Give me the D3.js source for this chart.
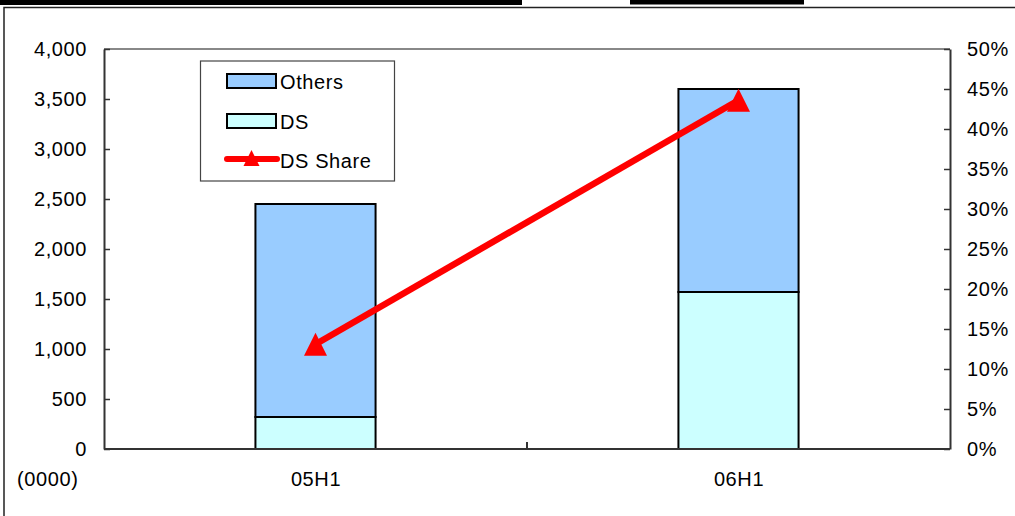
<!DOCTYPE html>
<html>
<head>
<meta charset="utf-8">
<script src="https://cdn.jsdelivr.net/npm/d3@7"></script>
<style>
  body { margin: 0; background: #fff; }
  svg text { font-family: "Liberation Sans", Arial, sans-serif; fill: #000; letter-spacing: 0.6px; }
</style>
</head>
<body>
<div id="chart"></div>
<script>
const categories = ['05H1', '06H1'];
const dsValues = [320, 1570];
const othersValues = [2130, 2030];
const dsShare = [13.1, 43.6];
const leftTicks = [0, 500, 1000, 1500, 2000, 2500, 3000, 3500, 4000];
const rightTicks = [0, 5, 10, 15, 20, 25, 30, 35, 40, 45, 50];
const unitLabel = '(0000)';

const W = 1015, H = 516;
const plot = { left: 104, right: 950, top: 49, bottom: 449 };
const fontSize = '20px';

const svg = d3.select('#chart').append('svg').attr('width', W).attr('height', H);

// page decoration: black strips on top and the outer frame
svg.append('rect').attr('x', 0).attr('y', 0).attr('width', 522).attr('height', 5).attr('fill', '#000');
svg.append('rect').attr('x', 630).attr('y', 0).attr('width', 174).attr('height', 4.5).attr('fill', '#000');
svg.append('path').attr('d', `M4,${H} V7.5 H${W}`).attr('fill', 'none').attr('stroke', '#222').attr('stroke-width', 1.5);

const x = d3.scalePoint().domain(categories).range([plot.left, plot.right]).padding(0.5);
const step = x.step();
const barW = step * 0.284;
const y = d3.scaleLinear().domain([0, 4000]).range([plot.bottom, plot.top]);
const y2 = d3.scaleLinear().domain([0, 50]).range([plot.bottom, plot.top]);

// plot area top border
svg.append('line').attr('x1', plot.left).attr('x2', plot.right).attr('y1', plot.top).attr('y2', plot.top)
    .attr('stroke', '#888').attr('stroke-width', 2);

// bars
const stack = categories.map((c, i) => ({ cat: c, ds: dsValues[i], others: othersValues[i] }));
const g = svg.append('g');
stack.forEach(d => {
    g.append('rect').attr('x', x(d.cat) - barW / 2).attr('width', barW)
        .attr('y', y(d.ds + d.others)).attr('height', y(d.ds) - y(d.ds + d.others))
        .attr('fill', '#99ccff').attr('stroke', '#000').attr('stroke-width', 2);
    g.append('rect').attr('x', x(d.cat) - barW / 2).attr('width', barW)
        .attr('y', y(d.ds)).attr('height', y(0) - y(d.ds))
        .attr('fill', '#ccffff').attr('stroke', '#000').attr('stroke-width', 2);
});

// axes
const left = svg.append('g').attr('transform', `translate(${plot.left},0)`)
    .call(d3.axisLeft(y).tickValues(leftTicks).tickSizeInner(-6).tickSizeOuter(0).tickPadding(17).tickFormat(d3.format(',')));
const right = svg.append('g').attr('transform', `translate(${plot.right},0)`)
    .call(d3.axisRight(y2).tickValues(rightTicks).tickSizeInner(-6).tickSizeOuter(0).tickPadding(17).tickFormat(d => d + '%'));
const bottom = svg.append('g').attr('transform', `translate(0,${plot.bottom})`)
    .call(d3.axisBottom(x).tickSize(0).tickPadding(23));
bottom.select('.domain').attr('d', `M${plot.left},0H${plot.right}`);
categories.slice(0, -1).forEach(c => {
    bottom.append('line').attr('x1', x(c) + step / 2).attr('x2', x(c) + step / 2)
        .attr('y1', 0).attr('y2', -7).attr('stroke', '#333').attr('stroke-width', 2);
});
[left, right, bottom].forEach(a => {
    a.selectAll('.domain').attr('stroke', '#333').attr('stroke-width', 2);
    a.selectAll('.tick line').attr('stroke', '#333').attr('stroke-width', 1.5);
    a.selectAll('text').attr('font-size', fontSize).attr('font-family', '"Liberation Sans", Arial, sans-serif');
});

svg.append('text').attr('x', 17).attr('y', 486).attr('font-size', fontSize).text(unitLabel);

// DS share line
const pts = categories.map((c, i) => [x(c), y2(dsShare[i])]);
svg.append('path').datum(pts).attr('d', d3.line()).attr('fill', 'none')
    .attr('stroke', '#ff0000').attr('stroke-width', 6.5);
const tri = s => `M0,${-s / 2}L${s / 2},${s / 2}L${-s / 2},${s / 2}Z`;
svg.selectAll('.marker').data(pts).enter().append('path')
    .attr('d', tri(23)).attr('transform', d => `translate(${d[0]},${d[1]})`).attr('fill', '#ff0000');

// legend
const lg = svg.append('g');
lg.append('rect').attr('x', 200.5).attr('y', 61).attr('width', 194).attr('height', 120)
    .attr('fill', '#fff').attr('stroke', '#444').attr('stroke-width', 1.2);
const items = [
    { label: 'Others', fill: '#99ccff' },
    { label: 'DS', fill: '#ccffff' }
];
items.forEach((it, i) => {
    const cy = 81 + i * 40;
    lg.append('rect').attr('x', 227).attr('y', cy - 7).attr('width', 49).attr('height', 14)
        .attr('fill', it.fill).attr('stroke', '#000').attr('stroke-width', 2);
    lg.append('text').attr('x', 280).attr('y', cy + 8).attr('font-size', fontSize).text(it.label);
});
lg.append('line').attr('x1', 227).attr('x2', 277).attr('y1', 159).attr('y2', 159)
    .attr('stroke', '#ff0000').attr('stroke-width', 6).attr('stroke-linecap', 'round');
lg.append('path').attr('d', tri(16)).attr('transform', 'translate(251.5,158)').attr('fill', '#ff0000');
lg.append('text').attr('x', 280).attr('y', 168).attr('font-size', fontSize).text('DS Share');
</script>
</body>
</html>
